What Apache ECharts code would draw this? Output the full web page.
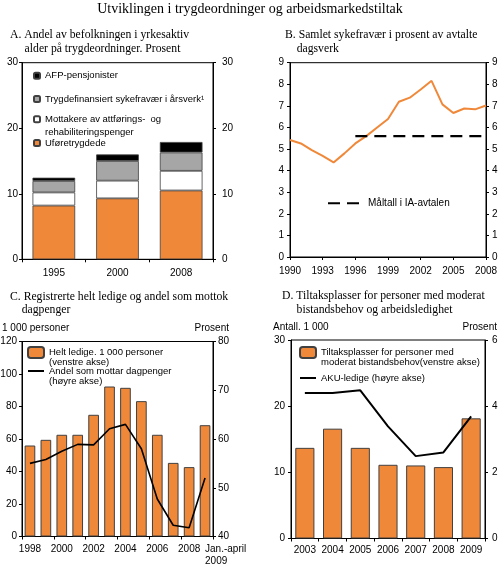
<!DOCTYPE html>
<html>
<head>
<meta charset="utf-8">
<script src="https://cdn.jsdelivr.net/npm/echarts@6/dist/echarts.min.js"></script>
<style>
  html, body { margin: 0; padding: 0; background: #fff; }
  #chart { width: 500px; height: 567px; }
</style>
</head>
<body>
<div id="chart"></div>
<script>
// ---------- Data ----------
// Panel A
const catsA = ['1995', '2000', '2008'];
const uforeA = [8.2, 9.3, 10.5];
const attforingA = [2.0, 2.7, 3.0];
const sykefravaerA = [1.75, 3.0, 2.8];
const afpA = [0.5, 1.0, 1.6];
const ticksA = [0, 10, 20, 30];

// Panel B
const catsB = ['1990','1991','1992','1993','1994','1995','1996','1997','1998','1999',
               '2000','2001','2002','2003','2004','2005','2006','2007','2008'];
const sykefravaerB = [5.42, 5.26, 4.95, 4.68, 4.38, 4.8, 5.26, 5.6, 6.0, 6.39,
                      7.19, 7.38, 7.76, 8.16, 7.07, 6.67, 6.88, 6.84, 7.02];
const maltallB = [null, null, null, null, null, null, 5.6, 5.6, 5.6, 5.6,
                  5.6, 5.6, 5.6, 5.6, 5.6, 5.6, 5.6, 5.6, 5.6];
const ticksB = [0, 1, 2, 3, 4, 5, 6, 7, 8, 9];

// Panel C
const catsC = ['1998','1999','2000','2001','2002','2003','2004','2005','2006','2007','2008','Jan.-april\n2009'];
const ledigeC = [56, 59.5, 62.6, 62.6, 74.9, 92.3, 91.5, 83.3, 62.6, 45.3, 42.7, 68.5];
const dagpengerC = [55.0, 55.8, 57.5, 58.9, 58.8, 62.1, 63.0, 58.0, 47.7, 42.3, 41.8, 52.0];
const ticksCLeft = [0, 20, 40, 60, 80, 100, 120];
const ticksCRight = [40, 50, 60, 70, 80];

// Panel D
const catsD = ['2003','2004','2005','2006','2007','2008','2009'];
const tiltakD = [13.7, 16.6, 13.7, 11.14, 11.04, 10.79, 18.16];
const akuD = [4.40, 4.40, 4.48, 3.39, 2.49, 2.60, 3.69];
const ticksDLeft = [0, 10, 20, 30];
const ticksDRight = [0, 2, 4, 6];

// ---------- Styles ----------
const SANS = "'Liberation Sans', Arial, Helvetica, sans-serif";
const SERIF = "'Liberation Serif', 'Times New Roman', serif";
const ORANGE = '#F0883A';
const GRAY = '#A6A6A6';
const BORDER = '#404040';

function range(t) { return { min: t[0], max: t[t.length - 1], interval: t[1] - t[0] }; }

function yAx(gridIndex, ticks, pos, margin) {
  const r = range(ticks);
  return {
    type: 'value', gridIndex: gridIndex, position: pos,
    min: r.min, max: r.max, interval: r.interval,
    splitLine: { show: false },
    axisLine: { show: true, lineStyle: { color: '#000', width: 1 } },
    axisTick: { show: true, length: 3, lineStyle: { color: '#000' } },
    axisLabel: { color: '#000', fontFamily: SANS, fontSize: 10, margin: margin }
  };
}

function xAx(gridIndex, cats, extra) {
  return Object.assign({
    type: 'category', gridIndex: gridIndex, data: cats,
    axisLine: { show: true, lineStyle: { color: '#000', width: 1 } },
    axisTick: { show: true, length: 3, lineStyle: { color: '#000' } },
    axisLabel: { color: '#000', fontFamily: SANS, fontSize: 10, margin: 8 },
    splitLine: { show: false }
  }, extra || {});
}

function grid(left, top, width, height) {
  return { left: left, top: top, width: width, height: height, show: true,
           borderColor: '#000', borderWidth: 1, backgroundColor: 'transparent',
           containLabel: false, outerBoundsMode: 'none' };
}

function leg(name, left, top, iw, ih, fontSize, lineHeight, label, isLine) {
  const l = {
    data: [name], left: left, top: top, padding: 0, orient: 'vertical',
    itemWidth: iw, itemHeight: ih, selectedMode: false,
    textStyle: { color: '#000', fontFamily: SANS, fontSize: fontSize, lineHeight: lineHeight },
    formatter: function () { return label; }
  };
  if (isLine) { l.itemStyle = { opacity: 0 }; }
  return l;
}

function title(text, left, top) {
  return { text: text, left: left, top: top, padding: 0,
           textStyle: { fontFamily: SERIF, fontSize: 11.7, fontWeight: 'normal', color: '#000', lineHeight: 13.3 } };
}

const nameUfore = 'Uføretrygdede';
const nameAtt = 'Mottakere av attførings-  og rehabiliteringspenger';
const nameSyk = 'Trygdefinansiert sykefravær i årsverk¹';
const nameAfp = 'AFP-pensjonister';
const nameB = 'Samlet sykefravær';
const nameMal = 'Måltall i IA-avtalen';
const nameLed = 'Helt ledige. 1 000 personer (venstre akse)';
const nameDag = 'Andel som mottar dagpenger (høyre akse)';
const nameTil = 'Tiltaksplasser for personer med moderat bistandsbehov(venstre akse)';
const nameAku = 'AKU-ledige (høyre akse)';

const option = {
  animation: false,
  backgroundColor: '#fff',
  title: [
    { text: 'Utviklingen i trygdeordninger og arbeidsmarkedstiltak', left: 'center', top: 1, padding: 0,
      textStyle: { fontFamily: SERIF, fontSize: 14, fontWeight: 'normal', color: '#000', lineHeight: 16 } },
    title('A. Andel av befolkningen i yrkesaktiv\n     alder på trygdeordninger. Prosent', 10, 28.5),
    title('B. Samlet sykefravær i prosent av avtalte\n    dagsverk', 285, 28.5),
    title('C. Registrerte helt ledige og andel som mottok\n    dagpenger', 10, 290),
    title('D. Tiltaksplasser for personer med moderat\n     bistandsbehov og arbeidsledighet', 282, 289.5)
  ],
  grid: [
    grid(22, 62.7, 191, 196.6),
    grid(290, 62.7, 196, 194.3),
    grid(22, 341.5, 191, 195),
    grid(291, 340, 194, 198.5)
  ],
  xAxis: [
    xAx(0, catsA, { axisLabel: { color: '#000', fontFamily: SANS, fontSize: 10, margin: 9 } }),
    xAx(1, catsB, { boundaryGap: false,
      axisTick: { show: true, length: 3, interval: 2, lineStyle: { color: '#000' } },
      axisLabel: { color: '#000', fontFamily: SANS, fontSize: 10, margin: 9, interval: 2 } }),
    xAx(2, catsC.map(function (c, i) {
        return i === catsC.length - 1 ? { value: c, textStyle: { align: 'left', lineHeight: 12 } } : c;
      }), {
      axisTick: { show: true, length: 3, interval: 1, lineStyle: { color: '#000' } },
      axisLabel: { color: '#000', fontFamily: SANS, fontSize: 10, margin: 7, lineHeight: 12,
        interval: function (i) { return i % 2 === 0 || i === catsC.length - 1; } } }),
    xAx(3, catsD, {
      axisTick: { show: true, length: 3, interval: 0, lineStyle: { color: '#000' } },
      axisLabel: { color: '#000', fontFamily: SANS, fontSize: 10, margin: 7, interval: 0 } })
  ],
  yAxis: [
    yAx(0, ticksA, 'left', 4),
    yAx(0, ticksA, 'right', 9),
    yAx(1, ticksB, 'left', 6),
    yAx(1, ticksB, 'right', 6),
    yAx(2, ticksCLeft, 'left', 5),
    yAx(2, ticksCRight, 'right', 5),
    yAx(3, ticksDLeft, 'left', 6),
    yAx(3, ticksDRight, 'right', 7)
  ],
  legend: [
    leg(nameAfp, 33, 69.2, 6, 6, 9.5, 13, 'AFP-pensjonister'),
    leg(nameSyk, 33, 92.5, 6, 6, 9.5, 13, 'Trygdefinansiert sykefravær i årsverk¹'),
    leg(nameAtt, 33, 99.8, 6, 6, 9.5, 13, '\nMottakere av attførings-  og\nrehabiliteringspenger'),
    leg(nameUfore, 33, 136.5, 6, 6, 9.5, 13, 'Uføretrygdede'),
    leg(nameMal, 327, 197.3, 35, 10, 10, 12, 'Måltall i IA-avtalen', true),
    leg(nameLed, 27, 337.5, 16, 11, 9.5, 10, '\nHelt ledige. 1 000 personer\n(venstre akse)'),
    leg(nameDag, 27, 356, 16, 10, 9.5, 10, '\nAndel som mottar dagpenger\n(høyre akse)', true),
    leg(nameTil, 299, 337.5, 16, 11, 9.5, 10, '\nTiltaksplasser for personer med\nmoderat bistandsbehov(venstre akse)'),
    leg(nameAku, 299, 373, 16, 10, 9.5, 10, 'AKU-ledige (høyre akse)', true)
  ],
  graphic: [
    { type: 'text', left: 2, top: 323, style: { text: '1 000 personer', font: '10px ' + SANS, fill: '#000' } },
    { type: 'text', right: 271, top: 323, style: { text: 'Prosent', font: '10px ' + SANS, fill: '#000' } },
    { type: 'text', left: 273, top: 322, style: { text: 'Antall. 1 000', font: '10px ' + SANS, fill: '#000' } },
    { type: 'text', right: 3, top: 322, style: { text: 'Prosent', font: '10px ' + SANS, fill: '#000' } }
  ],
  series: [
    { type: 'bar', name: nameUfore, xAxisIndex: 0, yAxisIndex: 0, stack: 'a', data: uforeA,
      barCategoryGap: '33%', itemStyle: { color: ORANGE, borderColor: BORDER, borderWidth: 0.8 } },
    { type: 'bar', name: nameAtt, xAxisIndex: 0, yAxisIndex: 0, stack: 'a', data: attforingA,
      barCategoryGap: '33%', itemStyle: { color: '#FFFFFF', borderColor: BORDER, borderWidth: 0.8 } },
    { type: 'bar', name: nameSyk, xAxisIndex: 0, yAxisIndex: 0, stack: 'a', data: sykefravaerA,
      barCategoryGap: '33%', itemStyle: { color: GRAY, borderColor: BORDER, borderWidth: 0.8 } },
    { type: 'bar', name: nameAfp, xAxisIndex: 0, yAxisIndex: 0, stack: 'a', data: afpA,
      barCategoryGap: '33%', itemStyle: { color: '#000000', borderColor: BORDER, borderWidth: 0.8 } },

    { type: 'line', name: nameB, xAxisIndex: 1, yAxisIndex: 2, data: sykefravaerB, symbol: 'none',
      lineStyle: { color: ORANGE, width: 2 }, itemStyle: { color: ORANGE } },
    { type: 'line', name: nameMal, xAxisIndex: 1, yAxisIndex: 2, data: maltallB, symbol: 'none',
      lineStyle: { color: '#000', width: 2.2, type: [12, 7] }, itemStyle: { color: '#000' } },

    { type: 'bar', name: nameLed, xAxisIndex: 2, yAxisIndex: 4, data: ledigeC,
      barCategoryGap: '33%', itemStyle: { color: ORANGE, borderColor: BORDER, borderWidth: 1 } },
    { type: 'line', name: nameDag, xAxisIndex: 2, yAxisIndex: 5, data: dagpengerC, symbol: 'none',
      lineStyle: { color: '#000', width: 1.6 }, itemStyle: { color: '#000' } },

    { type: 'bar', name: nameTil, xAxisIndex: 3, yAxisIndex: 6, data: tiltakD,
      barCategoryGap: '31%', itemStyle: { color: ORANGE, borderColor: BORDER, borderWidth: 1 } },
    { type: 'line', name: nameAku, xAxisIndex: 3, yAxisIndex: 7, data: akuD, symbol: 'none',
      lineStyle: { color: '#000', width: 2 }, itemStyle: { color: '#000' } }
  ]
};

const chart = echarts.init(document.getElementById('chart'), null, { renderer: 'canvas', width: 500, height: 567 });
chart.setOption(option);
</script>
</body>
</html>
